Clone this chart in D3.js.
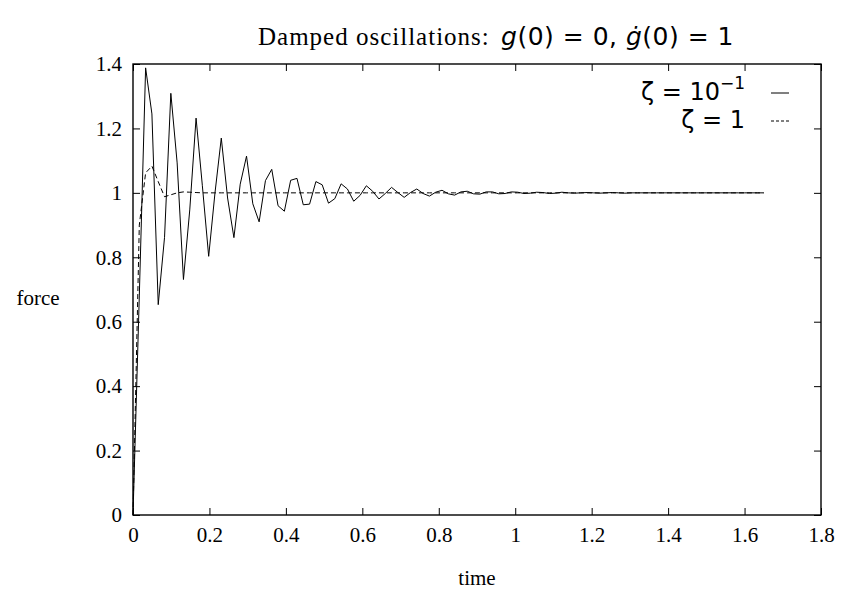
<!DOCTYPE html>
<html>
<head>
<meta charset="utf-8">
<script src="https://cdn.jsdelivr.net/npm/d3@7/dist/d3.min.js"></script>
<style>
  body { margin: 0; background: #fff; }
  svg { display: block; }
  .serif { font-family: "Liberation Serif", "Times New Roman", serif; }
  .sans { font-family: "DejaVu Sans", sans-serif; }
</style>
</head>
<body>
<svg id="chart" width="845" height="596"></svg>
<script>
// Sampling of the simulated response: 101 samples, step 0.0165 s
const timeStep = 0.0165;

// Response with damping ratio 0.1
const lightDamping = [
  0.000, 0.680, 1.388, 1.245, 0.653, 0.862, 1.309, 1.093, 0.731, 0.947,
  1.232, 1.022, 0.803, 1.000, 1.170, 0.984, 0.861, 1.027, 1.114, 0.966,
  0.910, 1.038, 1.073, 0.960, 0.943, 1.039, 1.045, 0.963, 0.965, 1.035,
  1.025, 0.968, 0.982, 1.028, 1.012, 0.974, 0.992, 1.022, 1.005, 0.981,
  0.998, 1.017, 1.001, 0.986, 1.001, 1.012, 0.998, 0.990, 1.002, 1.008,
  0.997, 0.993, 1.003, 1.005, 0.997, 0.996, 1.003, 1.003, 0.997, 0.998,
  1.003, 1.002, 0.998, 0.999, 1.002, 1.001, 0.998, 0.999, 1.002, 1.000,
  0.999, 1.000, 1.001, 1.000, 0.999, 1.000, 1.001, 1.000, 0.999, 1.000,
  1.000, 1.000, 1.000, 1.000, 1.000, 1.000, 1.000, 1.000, 1.000, 1.000,
  1.000, 1.000, 1.000, 1.000, 1.000, 1.000, 1.000, 1.000, 1.000, 1.000,
  1.000
];

// Response with damping ratio 1
const criticalDamping = [
  0.000, 0.900, 1.062, 1.083, 1.035, 0.988, 0.994, 1.000, 1.003, 1.002,
  1.001, 1.000, 1.000, 1.000, 1.000, 1.000, 1.000, 1.000, 1.000, 1.000,
  1.000, 1.000, 1.000, 1.000, 1.000, 1.000, 1.000, 1.000, 1.000, 1.000,
  1.000, 1.000, 1.000, 1.000, 1.000, 1.000, 1.000, 1.000, 1.000, 1.000,
  1.000, 1.000, 1.000, 1.000, 1.000, 1.000, 1.000, 1.000, 1.000, 1.000,
  1.000, 1.000, 1.000, 1.000, 1.000, 1.000, 1.000, 1.000, 1.000, 1.000,
  1.000, 1.000, 1.000, 1.000, 1.000, 1.000, 1.000, 1.000, 1.000, 1.000,
  1.000, 1.000, 1.000, 1.000, 1.000, 1.000, 1.000, 1.000, 1.000, 1.000,
  1.000, 1.000, 1.000, 1.000, 1.000, 1.000, 1.000, 1.000, 1.000, 1.000,
  1.000, 1.000, 1.000, 1.000, 1.000, 1.000, 1.000, 1.000, 1.000, 1.000,
  1.000
];

const xTicks = [0, 0.2, 0.4, 0.6, 0.8, 1, 1.2, 1.4, 1.6, 1.8];
const yTicks = [0, 0.2, 0.4, 0.6, 0.8, 1, 1.2, 1.4];
const xTickLabels = ["0", "0.2", "0.4", "0.6", "0.8", "1", "1.2", "1.4", "1.6", "1.8"];
const yTickLabels = ["0", "0.2", "0.4", "0.6", "0.8", "1", "1.2", "1.4"];

const plot = { left: 133, right: 821, top: 64, bottom: 515 };
const tickLen = 7;

const svg = d3.select("#chart");

const x = d3.scaleLinear().domain([0, 1.8]).range([plot.left, plot.right]);
const y = d3.scaleLinear().domain([0, 1.4]).range([plot.bottom, plot.top]);

// Axes with inward ticks on all four sides
function styleAxis(g) {
  g.select(".domain").remove();
  g.selectAll(".tick line").attr("stroke", "#000").attr("stroke-width", 1);
  g.selectAll(".tick text")
    .attr("class", "serif")
    .attr("fill", "#000")
    .style("font-size", "21px");
}

svg.append("g")
  .attr("transform", `translate(0,${plot.bottom})`)
  .call(d3.axisBottom(x).tickValues(xTicks)
    .tickFormat((d, i) => xTickLabels[i])
    .tickSizeInner(-tickLen).tickSizeOuter(0).tickPadding(12))
  .call(styleAxis);

svg.append("g")
  .attr("transform", `translate(0,${plot.top})`)
  .call(d3.axisTop(x).tickValues(xTicks).tickFormat("")
    .tickSizeInner(-tickLen).tickSizeOuter(0))
  .call(styleAxis);

svg.append("g")
  .attr("transform", `translate(${plot.left},0)`)
  .call(d3.axisLeft(y).tickValues(yTicks)
    .tickFormat((d, i) => yTickLabels[i])
    .tickSizeInner(-tickLen).tickSizeOuter(0).tickPadding(11))
  .call(styleAxis);

svg.append("g")
  .attr("transform", `translate(${plot.right},0)`)
  .call(d3.axisRight(y).tickValues(yTicks).tickFormat("")
    .tickSizeInner(-tickLen).tickSizeOuter(0))
  .call(styleAxis);

// Frame
svg.append("rect")
  .attr("x", plot.left).attr("y", plot.top)
  .attr("width", plot.right - plot.left).attr("height", plot.bottom - plot.top)
  .attr("fill", "none").attr("stroke", "#000").attr("stroke-width", 1.4);

// Curves
const line = d3.line()
  .x((d, i) => x(i * timeStep))
  .y(d => y(d));

svg.append("path")
  .datum(lightDamping)
  .attr("d", line)
  .attr("fill", "none").attr("stroke", "#000").attr("stroke-width", 1)
  .attr("stroke-linejoin", "miter");

svg.append("path")
  .datum(criticalDamping)
  .attr("d", line)
  .attr("fill", "none").attr("stroke", "#000").attr("stroke-width", 1)
  .attr("stroke-dasharray", "5,3");

// Title: roman words followed by the initial conditions in math sans
const title = svg.append("text")
  .attr("x", 258).attr("y", 45)
  .attr("fill", "#000");
title.append("tspan").attr("class", "serif")
  .style("font-size", "25px").style("letter-spacing", "1px")
  .text("Damped oscillations:");
const mathT = title.append("tspan").attr("class", "sans")
  .attr("x", 501).style("font-size", "25px").style("letter-spacing", "0.5px");
mathT.append("tspan").style("font-style", "italic").text("g");
mathT.append("tspan").text("(0) = 0, ");
mathT.append("tspan").style("font-style", "italic").text("\u0121");
mathT.append("tspan").text("(0) = 1");

// Axis titles
svg.append("text").attr("class", "serif")
  .attr("x", 38).attr("y", 305).attr("text-anchor", "middle")
  .style("font-size", "21px").text("force");
svg.append("text").attr("class", "serif")
  .attr("x", (plot.left + plot.right) / 2).attr("y", 585).attr("text-anchor", "middle")
  .style("font-size", "21px").text("time");

// Legend
const legendItems = [
  { label: ["\u03B6 = 10", "\u22121"], dash: null, yPos: 93 },
  { label: ["\u03B6 = 1", null], dash: "3,2", yPos: 121 }
];
legendItems.forEach(item => {
  const t = svg.append("text").attr("class", "sans")
    .attr("x", 745).attr("y", item.yPos + 7).attr("text-anchor", "end")
    .style("font-size", "24px").attr("fill", "#000");
  t.append("tspan").text(item.label[0]);
  if (item.label[1]) {
    t.append("tspan").attr("dy", -11).style("font-size", "17px").text(item.label[1]);
  }
  svg.append("line")
    .attr("x1", 771).attr("x2", 789)
    .attr("y1", item.yPos).attr("y2", item.yPos)
    .attr("stroke", "#000").attr("stroke-width", 1)
    .attr("stroke-dasharray", item.dash);
});
</script>
</body>
</html>
